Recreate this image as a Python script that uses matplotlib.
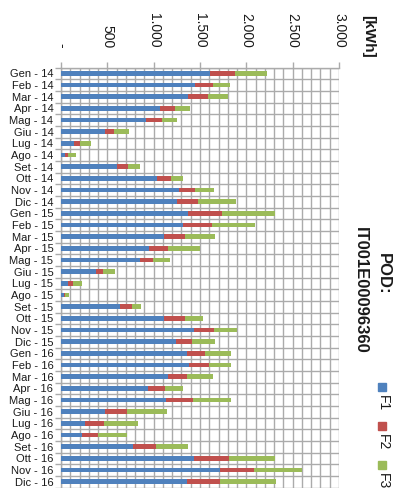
import numpy as np
import matplotlib
matplotlib.use("Agg")
import matplotlib.pyplot as plt
from matplotlib.ticker import MultipleLocator, FuncFormatter
from matplotlib.patches import Rectangle

# Monthly consumption per time band (kWh)
months = ["Gen", "Feb", "Mar", "Apr", "Mag", "Giu",
          "Lug", "Ago", "Set", "Ott", "Nov", "Dic"]
years = ["14", "15", "16"]
categories = [f"{m} - {y}" for y in years for m in months]

f1 = [1611, 1450, 1370, 1065, 921, 478, 140, 47, 604, 1036, 1270, 1248,
      1374, 1320, 1115, 953, 852, 374, 76, 29, 637, 1115, 1439, 1241,
      1363, 1385, 1158, 939, 1137, 478, 263, 230, 781, 1439, 1719, 1356]
f2 = [270, 190, 216, 165, 165, 94, 65, 29, 119, 151, 176, 230,
      363, 313, 223, 202, 141, 83, 53, 18, 129, 219, 212, 173,
      191, 212, 205, 183, 291, 234, 201, 169, 241, 374, 364, 360]
f3 = [338, 180, 213, 166, 169, 158, 115, 89, 126, 133, 201, 407,
      572, 464, 324, 341, 180, 126, 94, 39, 101, 195, 245, 248,
      284, 241, 277, 198, 406, 432, 363, 317, 345, 496, 514, 600]

series = ["F1", "F2", "F3"]
colors = ["#4F81BD", "#C0504D", "#9BBB59"]

plt.rcParams["font.family"] = ["Liberation Sans", "DejaVu Sans"]
text_color = "#1a1a1a"
grid_color = "#ababab"

W, H = 401, 488
fig = plt.figure(figsize=(W / 100, H / 100), dpi=100)
ax = fig.add_axes([61 / W, 0.5 / H, 278 / W, 420 / H])

n = len(categories)
y = np.arange(n)
a1 = np.array(f1)
a2 = np.array(f2)
a3 = np.array(f3)
bh = 0.42
ax.barh(y, a1, height=bh, color=colors[0], zorder=3)
ax.barh(y, a2, left=a1, height=bh, color=colors[1], zorder=3)
ax.barh(y, a3, left=a1 + a2, height=bh, color=colors[2], zorder=3)

ax.set_xlim(0, 3000)
ax.set_ylim(n - 0.5, -0.5)

# value axis on top
ax.xaxis.tick_top()
ax.xaxis.set_major_locator(MultipleLocator(500))
ax.xaxis.set_minor_locator(MultipleLocator(100))


def fmt(v, pos):
    if v == 0:
        return "-"
    return f"{v:,.0f}".replace(",", ".")


ax.xaxis.set_major_formatter(FuncFormatter(fmt))
ax.tick_params(axis="x", which="major", direction="out", length=4, width=1,
               color=grid_color, pad=10, labelsize=10, labelcolor=text_color,
               labelrotation=-90)
ax.tick_params(axis="x", which="minor", length=0)

# category axis
ax.set_yticks(y)
ax.set_yticklabels(categories)
ax.set_yticks(np.arange(n + 1) - 0.5, minor=True)
ax.tick_params(axis="y", which="major", length=0, pad=5.5, labelsize=8,
               labelcolor=text_color)
ax.tick_params(axis="y", which="minor", direction="out", length=4, width=1,
               color=grid_color)

ax.grid(which="both", axis="x", color=grid_color, lw=1.0, zorder=0)
ax.grid(which="minor", axis="y", color=grid_color, lw=1.0, zorder=0)
ax.set_axisbelow(True)

for side in ["right", "bottom"]:
    ax.spines[side].set_visible(False)
for side in ["left", "top"]:
    ax.spines[side].set_color(grid_color)
    ax.spines[side].set_linewidth(1.0)

# unit label and title
fig.text(368 / W, 1 - 36 / H, "[kWh]", rotation=-90, ha="center", va="center",
         fontsize=11, fontweight="bold", color=text_color)
fig.text(383 / W, 1 - 274 / H, "POD:", rotation=-90, ha="center", va="center",
         fontsize=12, fontweight="bold", color=text_color)
fig.text(360 / W, 1 - 290 / H, "IT001E00096360", rotation=-90, ha="center",
         va="center", fontsize=12, fontweight="bold", color=text_color)

# legend
sq = 8
for i, (name, c) in enumerate(zip(series, colors)):
    cy = 387 + i * 39
    fig.patches.append(Rectangle(((382 - sq / 2) / W, 1 - (cy + sq / 2) / H),
                                 sq / W, sq / H, transform=fig.transFigure,
                                 color=c, figure=fig))
    fig.text(383 / W, 1 - (cy + 16) / H, name, rotation=-90, ha="center",
             va="center", fontsize=10, color=text_color)

fig.savefig("out.png", dpi=100)
